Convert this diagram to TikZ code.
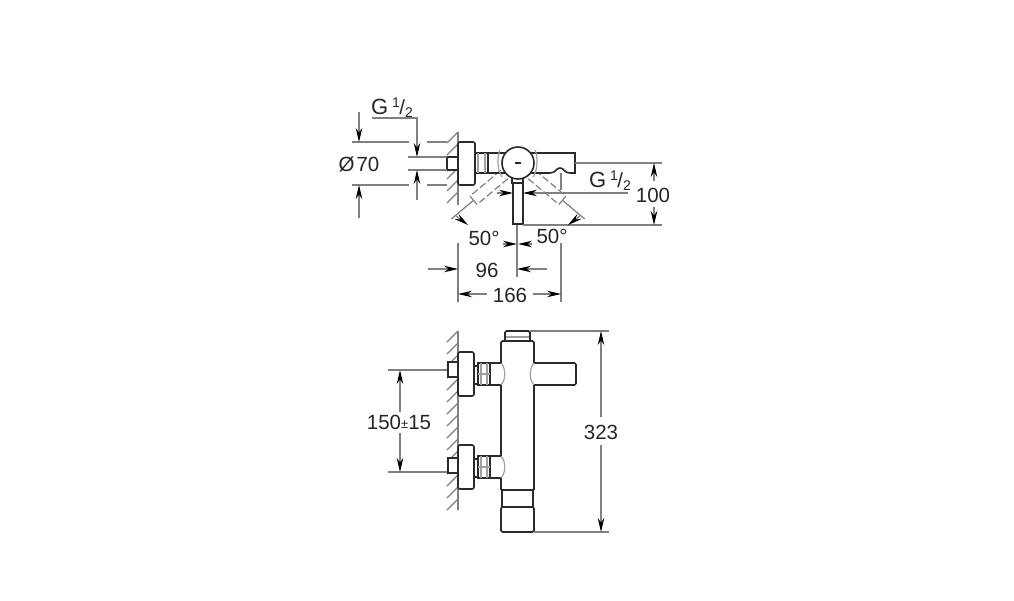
\documentclass[tikz,border=0pt]{standalone}
\usepackage{fontspec}
\setmainfont{Liberation Sans}
\usepackage{xcolor}
\usetikzlibrary{arrows.meta,calc}
\definecolor{bodyline}{HTML}{2A2A2A}
\definecolor{dimline}{HTML}{808080}
\definecolor{softline}{HTML}{A0A0A0}
\tikzset{
    part/.style={draw=bodyline,line width=1.6pt,fill=white},
    outline/.style={draw=bodyline,line width=1.6pt},
    faint/.style={draw=softline,line width=1.2pt},
    dimen/.style={draw=dimline,line width=1.2pt},
    tipped/.style={draw=dimline,line width=1.2pt,-{Stealth[length=14pt,width=6.5pt,color=black]}},
    hatch/.style={draw=dimline,line width=1.3pt},
    ghost/.style={draw=dimline,line width=1.2pt,dash pattern=on 7pt off 3pt},
    label/.style={font=\fontsize{20.5}{20.5}\selectfont,text=black!85,inner sep=0pt}
}
\newcommand{\halfsize}{{\fontsize{22}{22}\selectfont G}\kern4pt\raisebox{7pt}{\fontsize{14}{14}\selectfont 1}\kern-0.5pt/\raisebox{-3pt}{\fontsize{14}{14}\selectfont 2}}
\begin{document}
\begin{tikzpicture}[x=1pt,y=-1pt]
    \useasboundingbox[fill=white] (0,0) rectangle (1014,600);

    % Top view: wall
    \foreach \i in {132,144,...,192} {
        \draw[hatch] (447,\i+11) -- (458,\i);
    }
    \draw[dimen] (458,132) -- (458,205);
    \draw[dimen] (458,243) -- (458,302);
    \draw[dimen] (561,243) -- (561,302);
    \draw[dimen] (561,173) -- (561,190);

    % Top view: swung levers
    \foreach \ang in {-40,220} {
        \begin{scope}[shift={(518,163)},rotate=\ang]
            \draw[ghost] (18,-5.5) -- (58,-5.5);
            \draw[ghost] (18,5.5) -- (58,5.5);
            \draw[dimen] (58,-5.5) -- (58,5.5);
            \draw[dimen] (58,0) -- (87,0);
        \end{scope}
    }

    % Top view: fitting
    \draw[part] (447,157) rectangle (458,170);
    \draw[part,rounded corners=2pt] (458,142) rectangle (475,185);
    \draw[part] (475,153) rectangle (488,173);
    \draw[faint] (478,153) -- (478,173);
    \draw[faint] (485,153) -- (485,173);
    \draw[outline] (488,153) -- (505,153);
    \draw[outline] (488,173) -- (505,173);
    \draw[part] (512,178) rectangle (523,183);
    \draw[part] (513,183) rectangle (523,224);
    \draw[part] (525,153) -- (575,153) -- (575,173) -- (570,173)
        .. controls (564,173) and (564,168) .. (560,168)
        .. controls (556,168) and (556,173) .. (550,173) -- (525,173);
    \draw[faint] (500,150) .. controls (497,156) and (497,170) .. (502,177);
    \draw[faint] (535,150) .. controls (538,156) and (538,170) .. (533,177);
    \draw[part] (518,163) circle (16);
    \draw[line width=2.6pt,bodyline] (515,163) -- (521,163);

    % Top view: dimensions
    \draw[dimen] (372,118) -- (417,118) -- (417,142);
    \draw[dimen] (417,185) -- (417,200);
    \draw[dimen] (352,142) -- (409,142);
    \draw[dimen] (427,142) -- (447,142);
    \draw[dimen] (352,185) -- (409,185);
    \draw[dimen] (427,185) -- (447,185);
    \draw[dimen] (408,157) -- (447,157);
    \draw[dimen] (408,170) -- (447,170);
    \draw[tipped] (359,112) -- (359,142);
    \draw[tipped] (359,218) -- (359,185);
    \draw[tipped] (417,142) -- (417,157);
    \draw[tipped] (417,185) -- (417,170);
    \draw[dimen] (575,163) -- (662,163);
    \draw[dimen] (523,225) -- (662,225);
    \draw[tipped] (654,181) -- (654,163);
    \draw[tipped] (654,207) -- (654,225);
    \draw[dimen] (540,193) -- (628,193);
    \draw[tipped] (497,193) -- (513,193);
    \draw[tipped] (540,193) -- (523,193);
    \draw[tipped] (580,216) -- (568,225);
    \draw[tipped] (456,216) -- (468,225);
    \draw[dimen] (517,225) -- (517,277);
    \draw[tipped] (503,244) -- (517,244);
    \draw[tipped] (532,244) -- (518,244);
    \draw[tipped] (428,269) -- (458,269);
    \draw[tipped] (547,269) -- (517,269);
    \draw[tipped] (487,294) -- (458,294);
    \draw[tipped] (533,294) -- (561,294);

    % Top view: labels
    \node[label] (sizeleft) at (392,108) {\halfsize};
    \node[label] (sizeright) at (610,181) {\halfsize};
    \node[label] (flangedia) at (359,164) {Ø\kern2pt 70};
    \node[label] (heightlabel) at (653,195) {100};
    \node[label] (swingleft) at (484,238) {50°};
    \node[label] (swingright) at (552,236) {50°};
    \node[label] (spoutlabel) at (487,270) {96};
    \node[label] (widthlabel) at (510,295) {166};

    % Front view: wall
    \foreach \i in {331,343,...,500} {
        \draw[hatch] (447,\i+11) -- (458,\i);
    }
    \draw[dimen] (458,331) -- (458,510);

    % Front view: fittings
    \foreach \j/\k in {0/0,93/3} {
        \draw[part] (448,362+\j+\k) rectangle (458,377+\j+\k);
        \draw[part,rounded corners=2pt] (458,352+\j) rectangle (474,396+\j);
        \draw[part] (474,366+\j) rectangle (478,384+\j);
        \draw[part] (478,363+\j) rectangle (490,385+\j);
        \draw[faint] (478,374+\j) -- (490,374+\j);
        \draw[faint] (481,363+\j) -- (481,385+\j);
        \draw[faint] (487,363+\j) -- (487,385+\j);
        \draw[outline] (490,363+\j) -- (501,363+\j);
        \draw[outline] (490,385+\j) -- (501,385+\j);
        \draw[faint] (501,363+\j) .. controls (506,368+\j) and (506,380+\j) .. (501,385+\j);
    }

    % Front view: body
    \draw[outline,rounded corners=1.5pt] (505,341) -- (505,331) -- (530,331) -- (530,341);
    \draw[faint] (506,337) -- (529,337);
    \draw[outline,rounded corners=1.5pt] (501,363) -- (501,341) -- (534,341) -- (534,363);
    \draw[outline,rounded corners=1.5pt] (534,363) -- (576,363) -- (576,385) -- (534,385);
    \draw[faint] (534,363) .. controls (529,368) and (529,380) .. (534,385);
    \draw[outline] (534,385) -- (534,490);
    \draw[outline] (501,385) -- (501,456);
    \draw[outline] (501,478) -- (501,490);
    \draw[outline] (501,490) -- (534,490);
    \draw[outline] (502,490) -- (502,507);
    \draw[outline] (533,490) -- (533,507);
    \draw[outline,rounded corners=1.5pt] (501,507) -- (534,507) -- (534,532) -- (501,532) -- cycle;

    % Front view: dimensions
    \draw[dimen] (388,370) -- (447,370);
    \draw[dimen] (388,472) -- (447,472);
    \draw[tipped] (400,412) -- (400,370);
    \draw[tipped] (400,433) -- (400,472);
    \draw[dimen] (530,331) -- (609,331);
    \draw[dimen] (534,532) -- (609,532);
    \draw[tipped] (601,417) -- (601,331);
    \draw[tipped] (601,445) -- (601,532);

    % Front view: labels
    \node[label] (spacing) at (399,422) {150\raisebox{1pt}{\fontsize{13}{13}\selectfont ±}15};
    \node[label] (totalheight) at (601,432) {323};
\end{tikzpicture}
\end{document}
